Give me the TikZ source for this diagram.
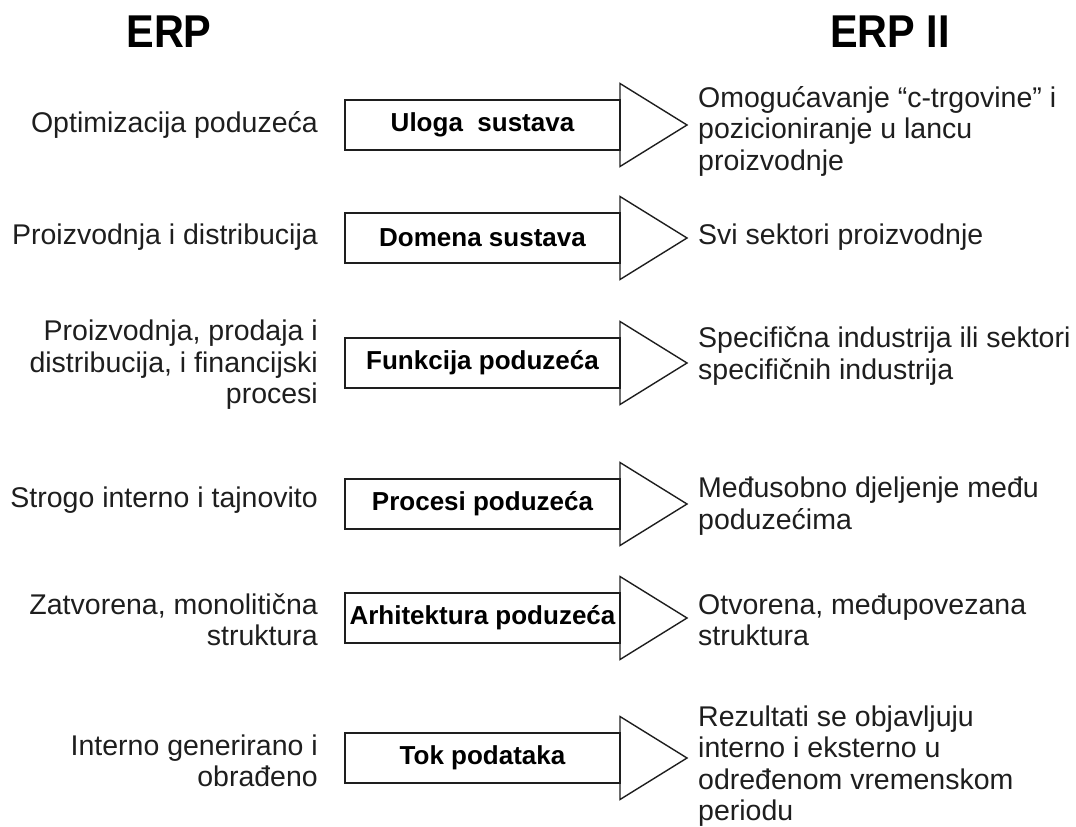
\documentclass[tikz,border=0pt]{standalone}
\usepackage{fontspec}
\setmainfont{Liberation Sans}
\newfontfamily\hdrfont[FakeStretch=0.9]{Liberation Sans}
\definecolor{ink}{HTML}{1E1E1E}
\begin{document}
\begin{tikzpicture}[x=1pt,y=-1pt,
  hdr/.style={font=\hdrfont\bfseries\fontsize{46}{50}\selectfont, text=black, inner sep=0pt, anchor=base},
  lefttxt/.style={font=\fontsize{28.5}{31.5}\selectfont, text=ink, inner sep=0pt, anchor=east, align=right},
  righttxt/.style={font=\fontsize{28.5}{31.5}\selectfont, text=ink, inner sep=0pt, anchor=west, align=left},
  labelbox/.style={draw=ink, line width=1.4pt, minimum width=275pt, minimum height=50pt, inner sep=0pt,
    font=\bfseries\fontsize{26}{30}\selectfont, text=black},
  tri/.style={draw=ink, line width=1.4pt, line join=miter}
]
\useasboundingbox (0,0) rectangle (1076,827);

\node[hdr] (h1) at (169,47) {ERP};
\node[hdr] (h2) at (890,47) {ERP II};

% arrows
\foreach \n/\y/\t in {1/125/{Uloga\ \ sustava}, 2/238/{Domena sustava}, 3/363/{Funkcija poduzeća},
                      4/504/{Procesi poduzeća}, 5/618/{Arhitektura poduzeća}, 6/758/{Tok podataka}}{
  \node[labelbox] (b\n) at (482.5,\y) {\t};
  \coordinate (tb\n) at (620,\y-41.5);
  \coordinate (tt\n) at (687,\y);
  \coordinate (tc\n) at (620,\y+41.5);
  \draw[tri] (tb\n) -- (tt\n) -- (tc\n) -- cycle;
}

% left texts
\node[lefttxt] (l1) at (318,125) {Optimizacija poduzeća};
\node[lefttxt] (l2) at (318,237) {Proizvodnja i distribucija};
\node[lefttxt] (l3) at (318,365) {Proizvodnja, prodaja i\\distribucija, i financijski\\procesi};
\node[lefttxt] (l4) at (318,500) {Strogo interno i tajnovito};
\node[lefttxt] (l5) at (318,620) {Zatvorena, monolitična\\struktura};
\node[lefttxt] (l6) at (318,761) {Interno generirano i\\obrađeno};

% right texts
\node[righttxt] (r1) at (698,131) {Omogućavanje “c-trgovine” i\\pozicioniranje u lancu\\proizvodnje};
\node[righttxt] (r2) at (698,237) {Svi sektori proizvodnje};
\node[righttxt] (r3) at (698,356) {Specifična industrija ili sektori\\specifičnih industrija};
\node[righttxt] (r4) at (698,506) {Međusobno djeljenje među\\poduzećima};
\node[righttxt] (r5) at (698,620) {Otvorena, međupovezana\\struktura};
\node[righttxt] (r6) at (698,766) {Rezultati se objavljuju\\interno i eksterno u\\određenom vremenskom\\periodu};
\end{tikzpicture}
\end{document}
